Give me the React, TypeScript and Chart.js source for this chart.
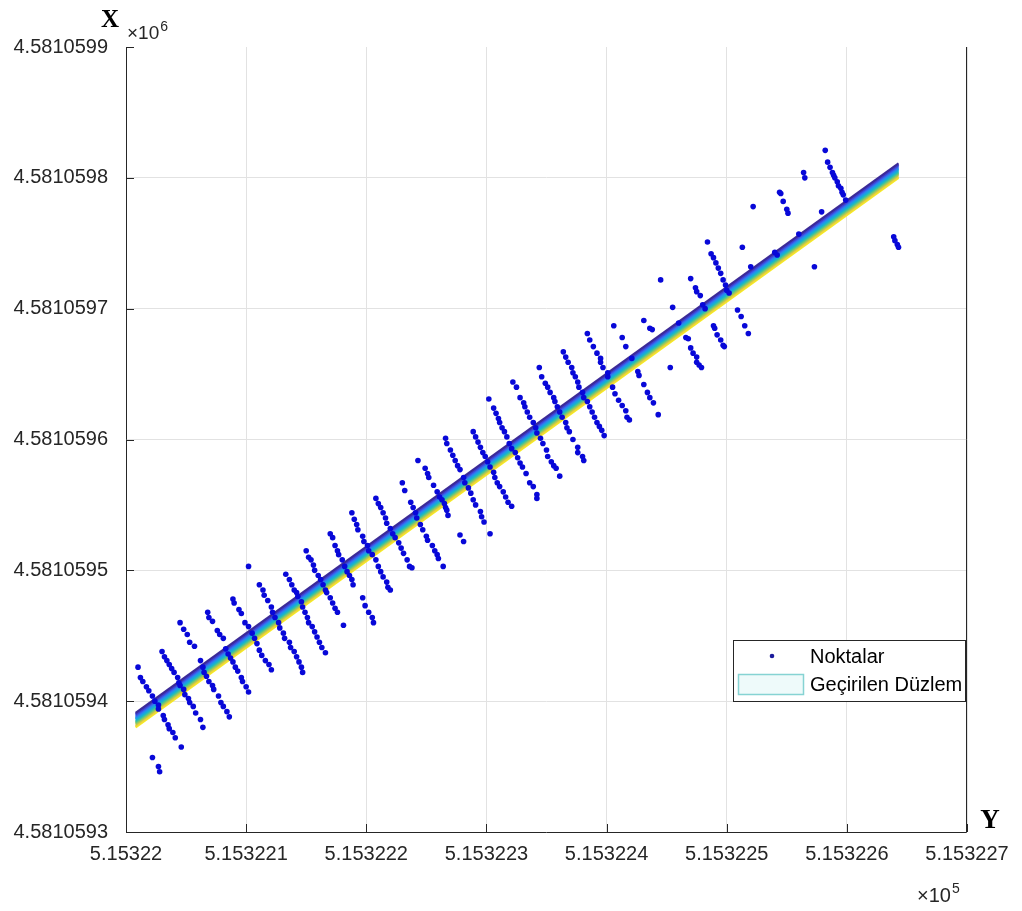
import React, { useEffect, useRef } from "react";
import { Chart, registerables } from "chart.js";

Chart.register(...registerables);

// Horizontal axis (Y, easting) ticks
const xTickValues = [515322.0, 515322.1, 515322.2, 515322.3, 515322.4, 515322.5, 515322.6, 515322.7];
const xTickLabels = ["5.15322", "5.153221", "5.153222", "5.153223", "5.153224", "5.153225", "5.153226", "5.153227"];
// Vertical axis (X, northing) ticks
const yTickValues = [4581059.3, 4581059.4, 4581059.5, 4581059.6, 4581059.7, 4581059.8, 4581059.9];
const yTickLabels = ["4.5810593", "4.5810594", "4.5810595", "4.5810596", "4.5810597", "4.5810598", "4.5810599"];

const legendLabels = ["Noktalar", "Geçirilen Düzlem"];

// Measured points [Y, X]
const noktalar: [number, number][] = [
  [515322.010,4581059.426],[515322.012,4581059.418],[515322.014,4581059.415],[515322.017,4581059.411],[515322.019,4581059.408],[515322.022,4581059.404],[515322.024,4581059.400],[515322.027,4581059.397],[515322.027,4581059.394],[515322.031,4581059.389],[515322.032,4581059.386],[515322.035,4581059.382],[515322.036,4581059.379],[515322.039,4581059.376],[515322.041,4581059.372],[515322.046,4581059.365],[515322.022,4581059.357],[515322.027,4581059.350],[515322.028,4581059.346],
  [515322.030,4581059.438],[515322.032,4581059.434],[515322.034,4581059.431],[515322.036,4581059.428],[515322.038,4581059.425],[515322.040,4581059.422],[515322.043,4581059.418],[515322.044,4581059.414],[515322.045,4581059.412],[515322.048,4581059.409],[515322.049,4581059.405],[515322.052,4581059.402],[515322.053,4581059.399],[515322.056,4581059.396],[515322.058,4581059.391],[515322.062,4581059.386],[515322.064,4581059.380],
  [515322.045,4581059.460],[515322.048,4581059.455],[515322.051,4581059.451],[515322.053,4581059.445],[515322.057,4581059.442],[515322.062,4581059.431],[515322.064,4581059.426],[515322.065,4581059.422],[515322.067,4581059.419],[515322.069,4581059.415],[515322.072,4581059.412],[515322.073,4581059.409],[515322.077,4581059.404],[515322.079,4581059.399],[515322.081,4581059.396],[515322.084,4581059.392],[515322.086,4581059.388],
  [515322.068,4581059.468],[515322.069,4581059.464],[515322.072,4581059.461],[515322.076,4581059.454],[515322.078,4581059.451],[515322.081,4581059.448],[515322.083,4581059.440],[515322.085,4581059.436],[515322.087,4581059.433],[515322.089,4581059.430],[515322.091,4581059.426],[515322.093,4581059.423],[515322.096,4581059.418],[515322.097,4581059.415],[515322.100,4581059.411],[515322.102,4581059.407],
  [515322.089,4581059.478],[515322.090,4581059.475],[515322.094,4581059.470],[515322.096,4581059.467],[515322.099,4581059.460],[515322.102,4581059.457],[515322.105,4581059.452],[515322.107,4581059.448],[515322.109,4581059.444],[515322.111,4581059.439],[515322.113,4581059.435],[515322.116,4581059.431],[515322.119,4581059.428],[515322.121,4581059.424],[515322.102,4581059.503],
  [515322.111,4581059.489],[515322.114,4581059.485],[515322.115,4581059.481],[515322.118,4581059.477],[515322.121,4581059.472],[515322.122,4581059.468],[515322.124,4581059.464],[515322.127,4581059.460],[515322.128,4581059.456],[515322.131,4581059.452],[515322.132,4581059.448],[515322.136,4581059.445],[515322.137,4581059.441],[515322.140,4581059.438],[515322.142,4581059.434],[515322.144,4581059.430],[515322.146,4581059.426],[515322.147,4581059.422],
  [515322.133,4581059.497],[515322.136,4581059.493],[515322.138,4581059.489],[515322.140,4581059.485],[515322.142,4581059.483],[515322.143,4581059.480],[515322.146,4581059.476],[515322.147,4581059.472],[515322.149,4581059.468],[515322.151,4581059.464],[515322.152,4581059.460],[515322.155,4581059.457],[515322.157,4581059.453],[515322.159,4581059.449],[515322.161,4581059.445],[515322.163,4581059.441],[515322.166,4581059.437],
  [515322.150,4581059.515],[515322.152,4581059.510],[515322.154,4581059.508],[515322.156,4581059.504],[515322.157,4581059.500],[515322.160,4581059.496],[515322.162,4581059.493],[515322.164,4581059.489],[515322.166,4581059.485],[515322.167,4581059.483],[515322.170,4581059.479],[515322.172,4581059.475],[515322.174,4581059.471],[515322.176,4581059.468],
  [515322.170,4581059.528],[515322.172,4581059.525],[515322.174,4581059.519],[515322.176,4581059.515],[515322.177,4581059.512],[515322.180,4581059.508],[515322.182,4581059.503],[515322.184,4581059.499],[515322.186,4581059.496],[515322.188,4581059.493],[515322.189,4581059.489],[515322.197,4581059.479],[515322.199,4581059.473],[515322.202,4581059.468],[515322.205,4581059.464],[515322.206,4581059.460],[515322.181,4581059.458],
  [515322.188,4581059.544],[515322.190,4581059.539],[515322.192,4581059.535],[515322.193,4581059.531],[515322.197,4581059.526],[515322.198,4581059.522],[515322.201,4581059.519],[515322.202,4581059.515],[515322.205,4581059.512],[515322.208,4581059.508],[515322.210,4581059.503],[515322.212,4581059.499],[515322.214,4581059.495],[515322.217,4581059.491],[515322.218,4581059.487],[515322.220,4581059.485],
  [515322.208,4581059.555],[515322.210,4581059.551],[515322.212,4581059.548],[515322.214,4581059.544],[515322.216,4581059.540],[515322.217,4581059.536],[515322.220,4581059.532],[515322.222,4581059.528],[515322.224,4581059.525],[515322.227,4581059.521],[515322.229,4581059.517],[515322.231,4581059.513],[515322.234,4581059.508],[515322.236,4581059.503],[515322.238,4581059.502],
  [515322.230,4581059.567],[515322.232,4581059.561],[515322.237,4581059.552],[515322.239,4581059.548],[515322.241,4581059.544],[515322.242,4581059.540],[515322.245,4581059.535],[515322.247,4581059.531],[515322.250,4581059.526],[515322.251,4581059.523],[515322.255,4581059.519],[515322.257,4581059.515],[515322.259,4581059.512],[515322.260,4581059.509],[515322.264,4581059.503],
  [515322.243,4581059.584],[515322.249,4581059.578],[515322.251,4581059.574],[515322.252,4581059.571],[515322.256,4581059.565],[515322.259,4581059.560],[515322.261,4581059.556],[515322.263,4581059.554],[515322.265,4581059.551],[515322.266,4581059.548],[515322.267,4581059.546],[515322.268,4581059.542],[515322.278,4581059.527],[515322.281,4581059.522],
  [515322.266,4581059.601],[515322.267,4581059.597],[515322.270,4581059.592],[515322.272,4581059.588],[515322.274,4581059.584],[515322.276,4581059.580],[515322.278,4581059.577],[515322.281,4581059.571],[515322.282,4581059.567],[515322.285,4581059.563],[515322.287,4581059.559],[515322.289,4581059.554],[515322.291,4581059.550],[515322.295,4581059.545],[515322.296,4581059.541],[515322.298,4581059.537],[515322.303,4581059.528],
  [515322.289,4581059.606],[515322.291,4581059.602],[515322.293,4581059.598],[515322.295,4581059.594],[515322.297,4581059.590],[515322.299,4581059.587],[515322.301,4581059.583],[515322.303,4581059.579],[515322.306,4581059.575],[515322.307,4581059.571],[515322.309,4581059.567],[515322.311,4581059.564],[515322.314,4581059.560],[515322.316,4581059.556],[515322.318,4581059.552],[515322.321,4581059.549],
  [515322.302,4581059.631],[515322.306,4581059.624],[515322.308,4581059.620],[515322.310,4581059.616],[515322.311,4581059.613],[515322.313,4581059.609],[515322.315,4581059.606],[515322.317,4581059.602],[515322.319,4581059.597],[515322.321,4581059.593],[515322.324,4581059.590],[515322.326,4581059.586],[515322.328,4581059.582],[515322.330,4581059.579],[515322.333,4581059.574],[515322.336,4581059.567],[515322.339,4581059.564],[515322.342,4581059.558],[515322.342,4581059.555],
  [515322.322,4581059.644],[515322.325,4581059.640],[515322.328,4581059.632],[515322.331,4581059.628],[515322.332,4581059.625],[515322.334,4581059.621],[515322.336,4581059.617],[515322.339,4581059.613],[515322.341,4581059.609],[515322.342,4581059.605],[515322.345,4581059.601],[515322.347,4581059.597],[515322.350,4581059.592],[515322.351,4581059.587],[515322.354,4581059.583],[515322.356,4581059.580],[515322.358,4581059.578],[515322.361,4581059.572],
  [515322.344,4581059.655],[515322.346,4581059.648],[515322.349,4581059.643],[515322.351,4581059.640],[515322.353,4581059.636],[515322.356,4581059.632],[515322.357,4581059.629],[515322.359,4581059.625],[515322.361,4581059.621],[515322.363,4581059.617],[515322.366,4581059.613],[515322.367,4581059.609],[515322.369,4581059.606],[515322.372,4581059.600],[515322.376,4581059.594],[515322.376,4581059.590],[515322.380,4581059.587],[515322.381,4581059.584],
  [515322.364,4581059.667],[515322.366,4581059.663],[515322.368,4581059.659],[515322.371,4581059.655],[515322.372,4581059.651],[515322.374,4581059.648],[515322.376,4581059.644],[515322.377,4581059.640],[515322.380,4581059.636],[515322.381,4581059.632],[515322.384,4581059.629],[515322.386,4581059.625],[515322.388,4581059.621],[515322.390,4581059.617],[515322.392,4581059.613],[515322.394,4581059.610],[515322.396,4581059.607],[515322.398,4581059.603],
  [515322.384,4581059.681],[515322.386,4581059.676],[515322.389,4581059.671],[515322.392,4581059.666],[515322.395,4581059.662],[515322.395,4581059.659],[515322.397,4581059.655],[515322.401,4581059.651],[515322.401,4581059.648],[515322.405,4581059.640],[515322.407,4581059.635],[515322.410,4581059.630],[515322.413,4581059.626],[515322.416,4581059.622],[515322.417,4581059.617],[515322.419,4581059.615],
  [515322.406,4581059.687],[515322.413,4581059.678],[515322.416,4581059.671],[515322.421,4581059.662],[515322.426,4581059.652],[515322.427,4581059.649],[515322.431,4581059.642],[515322.434,4581059.636],[515322.436,4581059.632],[515322.439,4581059.628],[515322.443,4581059.619],
  [515322.445,4581059.722],[515322.455,4581059.701],[515322.431,4581059.691],[515322.436,4581059.685],[515322.438,4581059.684],[515322.460,4581059.689],[515322.466,4581059.678],[515322.468,4581059.677],[515322.470,4581059.670],[515322.472,4581059.666],[515322.475,4581059.663],[515322.475,4581059.659],[515322.477,4581059.657],[515322.479,4581059.655],[515322.453,4581059.655],
  [515322.470,4581059.723],[515322.474,4581059.716],[515322.475,4581059.713],[515322.478,4581059.710],[515322.480,4581059.703],[515322.482,4581059.700],[515322.489,4581059.687],[515322.490,4581059.685],[515322.492,4581059.680],[515322.495,4581059.676],[515322.497,4581059.672],[515322.498,4581059.671],
  [515322.484,4581059.751],[515322.487,4581059.742],[515322.489,4581059.739],[515322.491,4581059.735],[515322.493,4581059.731],[515322.495,4581059.727],[515322.497,4581059.722],[515322.499,4581059.718],[515322.500,4581059.714],[515322.502,4581059.712],[515322.509,4581059.699],[515322.512,4581059.694],[515322.515,4581059.687],[515322.518,4581059.681],
  [515322.513,4581059.747],[515322.520,4581059.732],[515322.540,4581059.743],[515322.542,4581059.741],[515322.522,4581059.778],[515322.544,4581059.789],[515322.545,4581059.788],[515322.547,4581059.782],[515322.550,4581059.776],[515322.551,4581059.773],[515322.560,4581059.757],[515322.564,4581059.804],[515322.565,4581059.800],[515322.579,4581059.774],[515322.573,4581059.732],
  [515322.639,4581059.755],[515322.640,4581059.752],[515322.642,4581059.749],[515322.643,4581059.747],
  [515322.582,4581059.821],[515322.584,4581059.812],[515322.586,4581059.808],[515322.588,4581059.804],[515322.589,4581059.802],[515322.590,4581059.800],[515322.592,4581059.797],[515322.593,4581059.794],[515322.595,4581059.792],[515322.596,4581059.789],[515322.597,4581059.787],[515322.599,4581059.783],
];

// Fitted plane: edge coordinates and level offsets (band seen from above)
const duzlemY = [515322.008, 515322.643];
const duzlemX = [4581059.391, 4581059.811];
const duzlemKaydirma = [0, -0.001, -0.002, -0.003, -0.004, -0.005, -0.006, -0.007, -0.008, -0.009, -0.010, -0.011];
const duzlemRenkleri = [
  "#3b2a98", "#3e3fd0", "#3a5fea", "#2d80f0", "#1f9ae6", "#15afd6",
  "#2dbdb0", "#55c58a", "#8ec964", "#c6c648", "#eed53a", "#f7ec22",
];

const NOKTA_RENGI = "#0808d8";
const TEXT_COLOR = "#262626";

const overlayPlugin = {
  id: "matlabOverlay",
  afterDraw(chart: any) {
    const { ctx, chartArea } = chart;
    const { left, right, top, bottom } = chartArea;
    const xs = chart.scales.x;
    const ys = chart.scales.y;
    ctx.save();
    // axes lines
    ctx.strokeStyle = TEXT_COLOR;
    ctx.lineWidth = 1;
    ctx.beginPath();
    ctx.moveTo(Math.round(left) + 0.5, top);
    ctx.lineTo(Math.round(left) + 0.5, Math.round(bottom) + 0.5);
    ctx.lineTo(Math.round(right) - 0.5, Math.round(bottom) + 0.5);
    ctx.lineTo(Math.round(right) - 0.5, top);
    ctx.stroke();
    // inward ticks
    ctx.beginPath();
    for (const v of yTickValues) {
      const py = Math.round(ys.getPixelForValue(v)) + 0.5;
      ctx.moveTo(left, py);
      ctx.lineTo(left + 8, py);
    }
    for (const v of xTickValues) {
      const px = Math.round(xs.getPixelForValue(v)) + 0.5;
      ctx.moveTo(px, bottom);
      ctx.lineTo(px, bottom - 8);
    }
    ctx.stroke();

    // exponent labels
    ctx.fillStyle = TEXT_COLOR;
    ctx.textBaseline = "alphabetic";
    ctx.textAlign = "left";
    ctx.font = "19px 'Liberation Sans', Arial, sans-serif";
    ctx.fillText("\u00d710", 127, 39);
    const w6 = ctx.measureText("\u00d710").width;
    ctx.font = "14px 'Liberation Sans', Arial, sans-serif";
    ctx.fillText("6", 127 + w6 + 1, 31);

    ctx.font = "20px 'Liberation Sans', Arial, sans-serif";
    ctx.fillText("\u00d710", 917, 902);
    const w5 = ctx.measureText("\u00d710").width;
    ctx.font = "14px 'Liberation Sans', Arial, sans-serif";
    ctx.fillText("5", 917 + w5 + 1, 893);

    // axis titles
    ctx.fillStyle = "#000";
    ctx.textAlign = "center";
    ctx.font = "bold 25px 'Liberation Serif', 'Times New Roman', serif";
    ctx.fillText("X", 110, 27);
    ctx.font = "bold 27px 'Liberation Serif', 'Times New Roman', serif";
    ctx.fillText("Y", 990, 828);

    // legend
    const lx = 733, ly = 640, lw = 232, lh = 61;
    ctx.fillStyle = "#ffffff";
    ctx.fillRect(lx, ly, lw, lh);
    ctx.strokeStyle = TEXT_COLOR;
    ctx.lineWidth = 1;
    ctx.strokeRect(lx + 0.5, ly + 0.5, lw, lh);
    ctx.fillStyle = "#1c1c9c";
    ctx.beginPath();
    ctx.arc(772, 656, 2.3, 0, Math.PI * 2);
    ctx.fill();
    ctx.fillStyle = "#eefafa";
    ctx.fillRect(738, 674, 66, 21);
    ctx.strokeStyle = "#86d3d3";
    ctx.lineWidth = 1.5;
    ctx.strokeRect(738.5, 674.5, 65, 20);
    ctx.fillStyle = "#000";
    ctx.textAlign = "left";
    ctx.textBaseline = "middle";
    ctx.font = "20px 'Liberation Sans', Arial, sans-serif";
    ctx.fillText(legendLabels[0], 810, 657);
    ctx.fillText(legendLabels[1], 810, 685);
    ctx.restore();
  },
};

export default function App() {
  const canvasRef = useRef<HTMLCanvasElement | null>(null);

  useEffect(() => {
    const canvas = canvasRef.current;
    if (!canvas) return;

    const pointDataset = {
      label: legendLabels[0],
      data: noktalar.map(([y, x]) => ({ x: y, y: x })),
      backgroundColor: NOKTA_RENGI,
      borderWidth: 0,
      pointRadius: 2.8,
      pointHoverRadius: 2.8,
      showLine: false,
    };

    const planeDatasets = duzlemKaydirma.map((off, i) => ({
      label: legendLabels[1] + " " + i,
      data: duzlemY.map((y, j) => ({ x: y, y: duzlemX[j] + off })),
      borderColor: duzlemRenkleri[i],
      backgroundColor: duzlemRenkleri[i],
      borderWidth: 2.2,
      pointRadius: 0,
      showLine: true,
      borderCapStyle: "butt",
    }));

    const chart = new Chart(canvas, {
      type: "scatter",
      data: { datasets: [pointDataset as any, ...(planeDatasets as any[])] },
      options: {
        responsive: false,
        animation: false,
        devicePixelRatio: 1,
        layout: { padding: { top: 47, right: 55, left: 0, bottom: 0 } },
        plugins: {
          legend: { display: false },
          tooltip: { enabled: false },
        },
        scales: {
          x: {
            type: "linear",
            min: xTickValues[0],
            max: xTickValues[xTickValues.length - 1],
            afterBuildTicks: (s: any) => {
              s.ticks = xTickValues.map((v) => ({ value: v }));
            },
            afterFit: (s: any) => {
              s.height = 79;
            },
            border: { display: false },
            grid: { color: "#e2e2e2", lineWidth: 1, drawTicks: false },
            ticks: {
              callback: (_v: any, i: number) => xTickLabels[i],
              color: TEXT_COLOR,
              font: { family: "'Liberation Sans', Arial, sans-serif", size: 20 },
              padding: 10,
              maxRotation: 0,
              autoSkip: false,
            },
          },
          y: {
            type: "linear",
            min: yTickValues[0],
            max: yTickValues[yTickValues.length - 1],
            afterBuildTicks: (s: any) => {
              s.ticks = yTickValues.map((v) => ({ value: v }));
            },
            afterFit: (s: any) => {
              s.width = 126;
            },
            border: { display: false },
            grid: {
              color: (c: any) =>
                c.tick && c.tick.value === yTickValues[yTickValues.length - 1] ? "rgba(0,0,0,0)" : "#e2e2e2",
              lineWidth: 1,
              drawTicks: false,
            },
            ticks: {
              callback: (_v: any, i: number) => yTickLabels[i],
              color: TEXT_COLOR,
              font: { family: "'Liberation Sans', Arial, sans-serif", size: 20 },
              padding: 18,
              autoSkip: false,
            },
          },
        },
      } as any,
      plugins: [overlayPlugin],
    });

    return () => chart.destroy();
  }, []);

  return (
    <div style={{ position: "absolute", left: 0, top: 0, width: 1022, height: 911, background: "#fff" }}>
      <canvas ref={canvasRef} width={1022} height={911} style={{ display: "block", width: 1022, height: 911 }} />
    </div>
  );
}
